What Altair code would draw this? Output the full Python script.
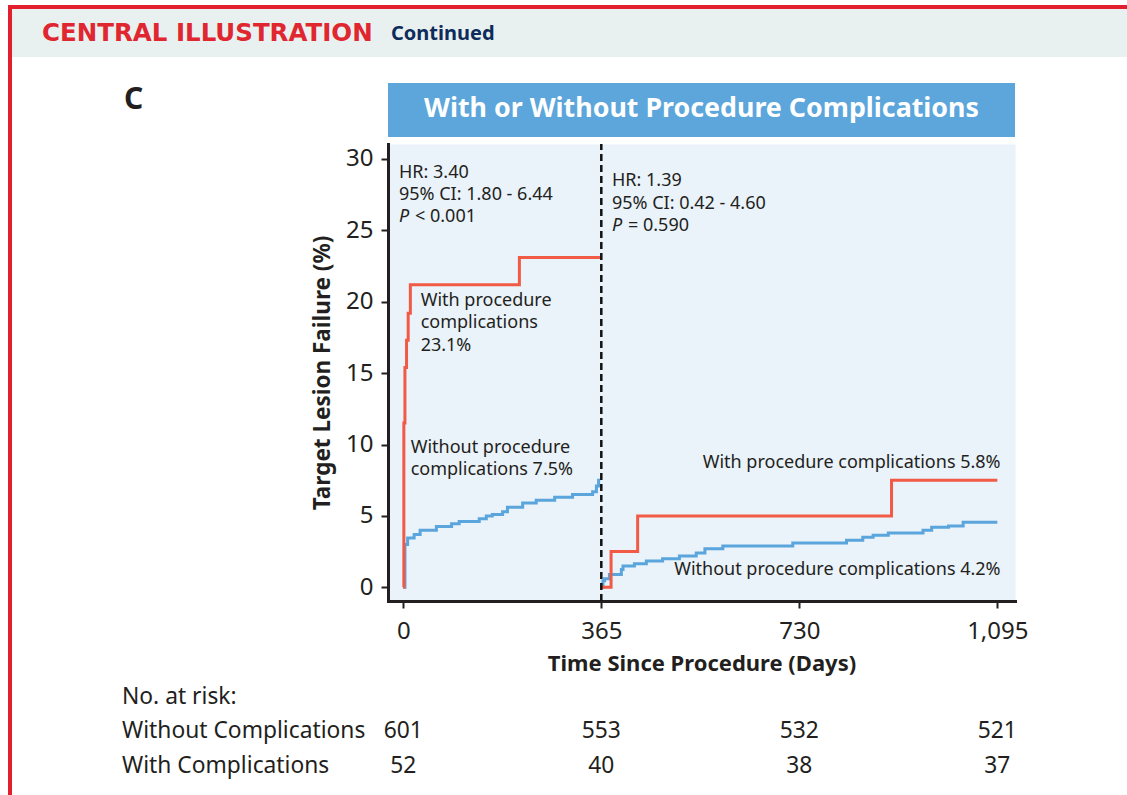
import altair as alt
import pandas as pd

# ---- Kaplan-Meier step points: days since procedure vs cumulative TLF (%) ----
# First year (day 0 to 365)
y1_without_days = [0, 3, 8, 20, 31, 61, 89, 103, 140, 153, 164, 183, 192, 220, 245, 279, 312, 349, 356, 360, 363]
y1_without_pct = [0, 3.0, 3.45, 3.7, 4.0, 4.25, 4.45, 4.6, 4.8, 5.0, 5.1, 5.3, 5.6, 5.9, 6.1, 6.3, 6.5, 6.7, 7.1, 7.5, 7.5]
y1_with_days = [0, 1, 3, 6, 9, 13, 214, 365]
y1_with_pct = [0, 11.5, 15.4, 17.3, 19.2, 21.2, 23.1, 23.1]
# Landmark analysis from day 365 to 1,095
y2_without_days = [365, 368, 371, 380, 402, 405, 426, 448, 478, 509, 540, 556, 589, 718, 817, 847, 866, 894, 958, 974, 1005, 1032, 1095]
y2_without_pct = [0, 0.45, 0.6, 0.9, 1.25, 1.5, 1.65, 1.85, 2.0, 2.2, 2.4, 2.7, 2.9, 3.1, 3.3, 3.5, 3.65, 3.8, 4.0, 4.2, 4.3, 4.55, 4.55]
y2_with_days = [365, 383, 432, 900, 1095]
y2_with_pct = [0, 2.5, 5.0, 7.5, 7.5]

# Number at risk table
risk_days = [0, 365, 730, 1095]
risk_without = [601, 553, 532, 521]
risk_with = [52, 40, 38, 37]

x_ticks = [0, 365, 730, 1095]
y_ticks = [0, 5, 10, 15, 20, 25, 30]

FONT = "Noto Sans"
INK = "#231F20"
RED = "#F15A45"
BLUE = "#5AA5DC"

def segment(days, pct, group, seg):
    return pd.DataFrame({"day": days, "pct": pct, "group": group, "seg": seg})

curves = pd.concat([
    segment(y1_without_days, y1_without_pct, "without", "w1"),
    segment(y1_with_days, y1_with_pct, "with", "c1"),
    segment(y2_without_days, y2_without_pct, "without", "w2"),
    segment(y2_with_days, y2_with_pct, "with", "c2"),
], ignore_index=True)

W, H = 627, 457
xscale = alt.Scale(domain=[-28.2, 1127.6], nice=False, zero=False)
yscale = alt.Scale(domain=[-0.96, 31.05], nice=False, zero=False)

x_axis = alt.Axis(
    values=x_ticks, format=",d", title="Time Since Procedure (Days)", grid=False,
    domainColor=INK, domainWidth=3, domainCap="square", tickColor=INK, tickWidth=2, tickSize=7,
    labelFont=FONT, labelFontSize=24, labelColor=INK, labelPadding=11, labelFlush=False,
    titleFont=FONT, titleFontSize=22, titleFontWeight="bold", titleColor=INK,
    titleBaseline="middle", titleY=62,
)
y_axis = alt.Axis(
    values=y_ticks, format="d", title="Target Lesion Failure (%)", grid=False,
    domainColor=INK, domainWidth=3, domainCap="square", tickColor=INK, tickWidth=2, tickSize=7,
    labelFont=FONT, labelFontSize=24, labelColor=INK, labelPadding=8, labelFlush=False,
    titleFont=FONT, titleFontSize=22.5, titleFontWeight="bold", titleColor=INK,
    titleBaseline="middle", titleX=-66, titleY=228.5,
)

one = pd.DataFrame({"k": [0]})

def rect(x, x2, y, y2, color):
    return alt.Chart(one).mark_rect(color=color).encode(
        x=alt.value(x), x2=alt.value(x2), y=alt.value(y), y2=alt.value(y2))

def label(text, x, y, size, color=INK, weight="normal", align="left", font=FONT):
    return alt.Chart(one).mark_text(
        text=text, font=font, fontSize=size, fontWeight=weight, color=color,
        align=align, baseline="middle").encode(x=alt.value(x), y=alt.value(y))

# Frame, header band and panel banner
frame = [
    rect(-376, 739, -135, -87, "#E9F1F0"),
    rect(-380, 739, -139, -135, "#E31E2D"),
    rect(-380, -376, -139, 651, "#E31E2D"),
    rect(0, W, -61, -7, "#5CA6DB"),
    label("CENTRAL ILLUSTRATION", -346, -110, 24.5, "#E0262F", "bold", font="DejaVu Sans"),
    label("Continued", 3, -110, 20, "#0D2B5B", "bold"),
    label("C", -264, -44, 30, INK, "bold"),
    label("With or Without Procedure Complications", W / 2, -35, 26.8, "white", "bold", "center"),
]

# Axes carrier + curves
lines = alt.Chart(curves).mark_line(interpolate="step-after", strokeWidth=3).encode(
    x=alt.X("day:Q", scale=xscale, axis=x_axis),
    y=alt.Y("pct:Q", scale=yscale, axis=y_axis),
    color=alt.Color("group:N", scale=alt.Scale(domain=["without", "with"], range=[BLUE, RED]), legend=None),
    detail="seg:N",
    order="day:Q",
)

landmark = alt.Chart(pd.DataFrame({"day": [365], "lo": [-0.96], "hi": [31.05]})).mark_rule(
    color="#111111", strokeWidth=2.5, strokeDash=[7, 4]).encode(
    x=alt.X("day:Q", scale=xscale), y=alt.Y("lo:Q", scale=yscale), y2="hi:Q")

# In-plot annotations placed in data coordinates
stats = pd.DataFrame({
    "day": [-7.9, -7.9, 384.7, 384.7],
    "pct": [29.05, 27.51, 28.44, 26.86],
    "text": ["HR: 3.40", "95% CI: 1.80 - 6.44", "HR: 1.39", "95% CI: 0.42 - 4.60"],
})
stats_p = pd.DataFrame({"day": [-7.9, 384.7], "pct": [25.96, 25.28], "text": ["< 0.001", "= 0.590"]})
notes_left = pd.DataFrame({
    "day": [32, 32, 32, 13.6, 13.6],
    "pct": [20.07, 18.48, 16.9, 9.74, 8.22],
    "text": ["With procedure", "complications", "23.1%",
             "Without procedure", "complications 7.5%"],
})
notes_right = pd.DataFrame({
    "day": [1101, 1101], "pct": [8.74, 1.23],
    "text": ["With procedure complications 5.8%", "Without procedure complications 4.2%"],
})

def notes(df, size=18, align="left", style="normal", dx=0, text=None):
    enc = dict(x=alt.X("day:Q", scale=xscale), y=alt.Y("pct:Q", scale=yscale))
    if text is None:
        enc["text"] = "text:N"
    m = alt.Chart(df).mark_text(font=FONT, fontSize=size, color=INK, align=align,
                                baseline="middle", fontStyle=style, dx=dx,
                                **({"text": text} if text else {}))
    return m.encode(**enc)

annotations = [
    notes(stats),
    notes(stats_p, dx=16),
    notes(stats_p, style="italic", text="P"),
    notes(notes_left),
    notes(notes_right, align="right"),
]

# Number-at-risk table
RISK_SIZE = 22.8
risk = pd.DataFrame({"day": risk_days, "without": risk_without, "with": risk_with})
risk_rows = [
    alt.Chart(risk).mark_text(font=FONT, fontSize=RISK_SIZE, color=INK, baseline="middle").encode(
        x=alt.X("day:Q", scale=xscale), y=alt.value(587), text="without:Q"),
    alt.Chart(risk).mark_text(font=FONT, fontSize=RISK_SIZE, color=INK, baseline="middle").encode(
        x=alt.X("day:Q", scale=xscale), y=alt.value(622), text="with:Q"),
    label("No. at risk:", -266, 553, RISK_SIZE),
    label("Without Complications", -266, 587, RISK_SIZE),
    label("With Complications", -266, 622, RISK_SIZE),
]

chart = alt.layer(lines, landmark, *annotations, *risk_rows, *frame).properties(
    width=W, height=H,
    padding={"left": 388, "top": 144, "right": 112, "bottom": 194},
    autosize=alt.AutoSizeParams(type="none"),
    background="white",
).configure_view(fill="#EAF2FA", stroke="transparent")

chart.save("out.html", embed_options={"renderer": "svg", "actions": False})
